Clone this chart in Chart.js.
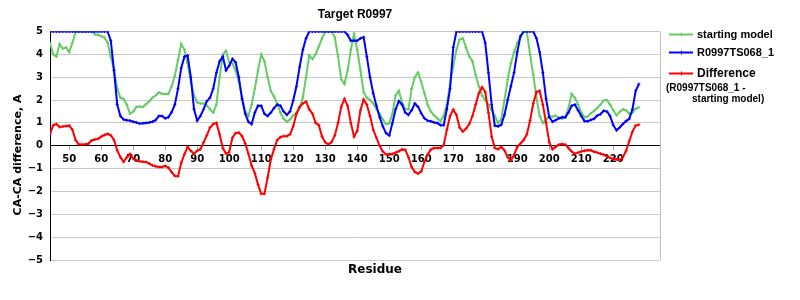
<!DOCTYPE html>
<html>
<head>
<meta charset="utf-8">
<script src="https://cdn.jsdelivr.net/npm/chart.js@4.4.1/dist/chart.umd.min.js"></script>
<style>
  body { margin: 0; background: #fff; }
  #wrap { width: 800px; height: 300px; }
</style>
</head>
<body>
<div id="wrap"><canvas id="chart"></canvas></div>
<script>
// residues 44..228, one value per residue
const firstResidue = 44;
const lastResidue = 228;

const startingModel = [
  4.5, 4.0, 3.9, 4.45, 4.25, 4.3, 4.1, 4.5, 5.0, 5.0,
  5.0, 5.0, 5.0, 5.0, 4.88, 4.85, 4.8, 4.73, 4.52, 3.9,
  3.3, 2.5, 2.1, 2.05, 1.8, 1.4, 1.5, 1.7, 1.72, 1.7,
  1.82, 1.95, 2.1, 2.2, 2.33, 2.28, 2.27, 2.27, 2.6, 3.05,
  3.75, 4.45, 4.2, 3.6, 2.8, 2.2, 1.9, 1.85, 1.85, 1.76,
  1.6, 1.45, 1.8, 3.0, 4.0, 4.15, 3.65, 3.6, 3.3, 2.8,
  2.15, 1.5, 1.3, 1.8, 2.5, 3.3, 4.0, 3.7, 3.0, 2.4,
  2.15, 1.85, 1.45, 1.18, 1.05, 1.15, 1.32, 1.44, 1.65, 2.1,
  3.0, 3.95, 3.8, 4.0, 4.35, 4.7, 5.0, 5.0, 5.0, 4.75,
  3.9, 2.9, 2.7, 3.3, 4.2, 4.9, 4.2, 3.3, 2.35, 2.1,
  2.0, 1.85, 1.6, 1.4, 1.15, 0.95, 0.98, 1.4, 2.2, 2.4,
  1.9, 1.6, 1.6, 2.5, 3.0, 3.2, 2.8, 2.3, 1.8, 1.5,
  1.33, 1.2, 1.08, 1.3, 1.8, 2.7, 3.5, 4.2, 4.65, 4.7,
  4.3, 3.9, 3.7, 3.1, 2.6, 2.2, 2.0, 1.8, 1.55, 1.3,
  1.0, 1.15, 2.0, 2.9, 3.6, 4.1, 4.5, 4.75, 5.0, 5.0,
  4.0, 3.1, 2.1, 1.3, 1.0, 1.15, 1.3, 1.27, 1.32, 1.22,
  1.18, 1.23, 1.65, 2.27, 2.1, 1.8, 1.45, 1.25, 1.28, 1.42,
  1.52, 1.65, 1.8, 1.98, 2.0, 1.8, 1.55, 1.33, 1.48, 1.6,
  1.55, 1.4, 1.45, 1.62, 1.68
];

const ts068 = [
  5, 5, 5, 5, 5, 5, 5, 5, 5, 5,
  5, 5, 5, 5, 5, 5, 5, 5, 5, 4.6,
  3.3, 1.8, 1.3, 1.15, 1.12, 1.1, 1.05, 1.02, 0.97, 0.98,
  1.0, 1.02, 1.05, 1.12, 1.3, 1.3, 1.2, 1.25, 1.47, 1.8,
  2.5, 3.4, 3.9, 3.95, 3.0, 1.6, 1.1, 1.3, 1.6, 1.95,
  2.1, 2.5, 3.2, 3.7, 3.9, 3.3, 3.5, 3.8, 3.65, 3.0,
  2.05, 1.4, 1.05, 0.95, 1.45, 1.75, 1.75, 1.4, 1.3, 1.45,
  1.65, 1.8, 1.75, 1.5, 1.35, 1.5, 1.98, 2.6, 3.45, 4.2,
  4.7, 5, 5, 5, 5, 5, 5, 5, 5, 5,
  5, 5, 5, 4.85, 4.6, 4.6, 4.6, 4.7, 4.75, 3.9,
  3.0, 2.3, 1.75, 1.25, 0.85, 0.55, 0.45, 1.0, 1.6, 1.95,
  1.8, 1.45, 1.35, 1.55, 1.85, 1.7, 1.42, 1.2, 1.1, 1.07,
  1.02, 1.0, 0.9, 0.9, 1.6, 2.5, 4.3, 5, 5, 5,
  5, 5, 5, 5, 5, 5, 4.5, 3.2, 1.8, 0.88,
  0.85, 0.92, 1.35, 2.0, 2.6, 3.2, 4.1, 4.8, 5, 5,
  5, 5, 4.7, 4.1, 3.2, 2.05, 1.25, 1.05, 1.12, 1.2,
  1.25, 1.25, 1.45, 1.75, 1.8, 1.55, 1.3, 1.08, 1.07, 1.13,
  1.18, 1.32, 1.38, 1.53, 1.5, 1.3, 0.9, 0.68, 0.8, 0.95,
  1.08, 1.18, 1.6, 2.4, 2.7
];

const difference = [
  0.52, 0.9, 0.95, 0.82, 0.84, 0.86, 0.88, 0.7, 0.25, 0.06,
  0.06, 0.07, 0.09, 0.23, 0.27, 0.3, 0.4, 0.47, 0.52, 0.46,
  0.25, -0.2, -0.5, -0.7, -0.5, -0.36, -0.57, -0.64, -0.68, -0.7,
  -0.71, -0.78, -0.86, -0.9, -0.93, -0.93, -0.88, -0.96, -1.15, -1.32,
  -1.33, -0.75, -0.38, -0.05, -0.22, -0.35, -0.22, -0.15, 0.15, 0.45,
  0.8, 0.95, 1.0, 0.5, -0.1, -0.35, -0.28, 0.35, 0.55, 0.58,
  0.42, 0.1, -0.35, -0.86, -1.2, -1.7, -2.1, -2.1, -1.4, -0.6,
  -0.15, 0.25, 0.38, 0.42, 0.42, 0.5, 0.85, 1.4, 1.7, 1.85,
  1.93, 1.6, 1.4, 1.0, 0.9, 0.4, 0.15, 0.06, 0.16, 0.45,
  1.0, 1.7, 2.05, 1.75, 1.0, 0.4, 0.65, 1.55, 2.03, 1.8,
  1.3, 0.7, 0.35, 0.0, -0.25, -0.38, -0.36, -0.36, -0.3, -0.24,
  -0.16, -0.18, -0.5, -0.93, -1.15, -1.22, -1.12, -0.7, -0.38, -0.17,
  -0.1, -0.1, -0.1, 0.02, 0.7, 1.3, 1.58, 1.35, 0.8, 0.62,
  0.75, 0.95, 1.3, 1.8, 2.3, 2.56, 2.35, 1.45, 0.4, -0.1,
  -0.15, -0.05, -0.2, -0.5, -0.65, -0.4, -0.05, 0.1, 0.25, 0.5,
  1.1, 1.85, 2.35, 2.4, 1.8, 1.0, 0.15, -0.15, -0.05, 0.05,
  0.08, 0.05, -0.1, -0.25, -0.35, -0.3, -0.25, -0.22, -0.2, -0.2,
  -0.26, -0.3, -0.35, -0.39, -0.47, -0.53, -0.57, -0.6, -0.63, -0.5,
  -0.22, 0.2, 0.62, 0.88, 0.92
];

const xTickLabels = [50, 60, 70, 80, 90, 100, 110, 120, 130, 140, 150, 160, 170, 180, 190, 200, 210, 220];
const yTickLabels = [-5, -4, -3, -2, -1, 0, 1, 2, 3, 4, 5];

const residues = [];
for (let r = firstResidue; r <= lastResidue; r++) residues.push(r);

function points(values) {
  return values.map((v, i) => ({ x: residues[i], y: v }));
}

function lineSet(label, values, color, order) {
  return {
    label,
    data: points(values),
    borderColor: color,
    backgroundColor: color,
    borderWidth: 2,
    pointStyle: 'cross',
    pointRadius: 1.5,
    pointBorderWidth: 1,
    pointHoverRadius: 0,
    tension: 0,
    order
  };
}

// texts, legend and the right frame edge drawn by hand
const decorations = {
  id: 'decorations',
  afterDraw(chart) {
    const ctx = chart.ctx;
    const area = chart.chartArea;
    ctx.save();

    ctx.strokeStyle = '#c0c0c0';
    ctx.lineWidth = 1;
    ctx.beginPath();
    ctx.moveTo(area.right + 0.5, area.top);
    ctx.lineTo(area.right + 0.5, area.bottom);
    ctx.stroke();

    ctx.fillStyle = '#000';
    ctx.textAlign = 'center';
    ctx.textBaseline = 'middle';
    ctx.font = 'bold 12px "Liberation Sans", Arial, sans-serif';
    ctx.fillText('Target R0997', (area.left + area.right) / 2, 15);

    ctx.font = 'bold 12px "DejaVu Sans", sans-serif';
    ctx.fillText('Residue', 375, 270);

    ctx.save();
    ctx.translate(18, 155);
    ctx.rotate(-Math.PI / 2);
    ctx.font = 'bold 11px "DejaVu Sans", sans-serif';
    ctx.fillText('CA-CA difference, A', 0, 0);
    ctx.restore();

    const items = [
      { text: 'starting model', color: '#66cc66', y: 34.5 },
      { text: 'R0997TS068_1', color: '#0000ff', y: 52.5 },
      { text: 'Difference', color: '#ff0000', y: 73.5 }
    ];
    ctx.textAlign = 'left';
    items.forEach(it => {
      ctx.strokeStyle = it.color;
      ctx.lineWidth = 2;
      ctx.beginPath();
      ctx.moveTo(669, it.y);
      ctx.lineTo(693, it.y);
      ctx.stroke();
      ctx.lineWidth = 1;
      ctx.beginPath();
      ctx.moveTo(681.5, it.y - 2);
      ctx.lineTo(681.5, it.y + 2);
      ctx.stroke();
      ctx.font = it.text === 'Difference'
        ? 'bold 12px "Liberation Sans", Arial, sans-serif'
        : 'bold 11px "Liberation Sans", Arial, sans-serif';
      ctx.fillText(it.text, 697, it.y);
    });
    ctx.font = 'bold 10px "Liberation Sans", Arial, sans-serif';
    ctx.fillText('(R0997TS068_1 -', 666, 88);
    ctx.fillText('starting model)', 692, 99);

    ctx.restore();
  }
};

new Chart(document.getElementById('chart'), {
  type: 'line',
  data: {
    datasets: [
      lineSet('starting model', startingModel, '#66cc66', 3),
      lineSet('R0997TS068_1', ts068, '#0000ff', 2),
      lineSet('Difference', difference, '#ff0000', 1)
    ]
  },
  plugins: [decorations],
  options: {
    responsive: true,
    maintainAspectRatio: false,
    animation: false,
    layout: { padding: { left: 0, right: 140, top: 31.5, bottom: 40 } },
    plugins: {
      legend: { display: false },
      title: { display: false },
      tooltip: { enabled: false }
    },
    scales: {
      x: {
        type: 'linear',
        min: 44,
        max: 234.6,
        position: { y: 0 },
        afterBuildTicks: scale => {
          scale.ticks = xTickLabels.map(v => ({ value: v }));
        },
        ticks: {
          color: '#000',
          font: { family: 'DejaVu Sans', size: 10, weight: 'bold' },
          autoSkip: false,
          maxRotation: 0,
          padding: 4
        },
        grid: { drawOnChartArea: false, drawTicks: true, tickLength: 4, color: '#b0b0b0' },
        border: { color: '#000', width: 1 }
      },
      y: {
        min: -5,
        max: 5,
        afterFit: scale => { scale.width = 50; },
        afterBuildTicks: scale => {
          scale.ticks = yTickLabels.map(v => ({ value: v }));
        },
        ticks: {
          color: '#000',
          font: { family: 'DejaVu Sans', size: 10, weight: 'bold' },
          padding: 7,
          callback: v => (v < 0 ? '\u2212' + Math.abs(v) : String(v))
        },
        grid: {
          drawTicks: false,
          color: ctx => (ctx.tick && ctx.tick.value === 0 ? '#000' : '#c8c8c8')
        },
        border: { color: '#000', width: 1 }
      }
    }
  }
});
</script>
</body>
</html>
